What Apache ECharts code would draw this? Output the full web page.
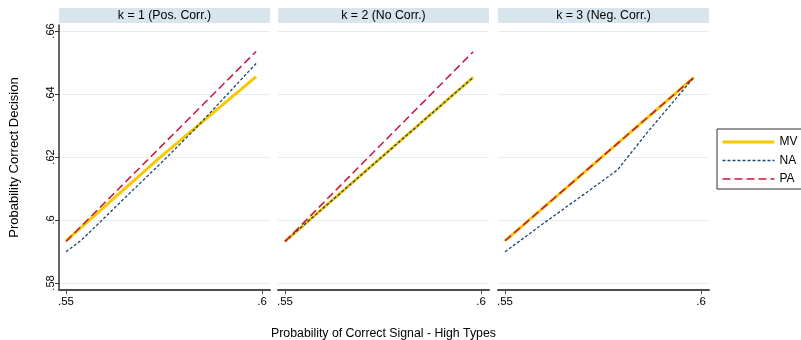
<!DOCTYPE html>
<html><head><meta charset="utf-8">
<script src="https://cdn.jsdelivr.net/npm/echarts@6/dist/echarts.min.js"></script>
<style>html,body{margin:0;padding:0;background:#fff}#c{width:801px;height:340px}</style>
</head><body><div id="c"></div>
<script>
// ---- data ----
const panelTitles = ['k = 1 (Pos. Corr.)', 'k = 2 (No Corr.)', 'k = 3 (Neg. Corr.)'];
const seriesNames = ['MV', 'NA', 'PA'];
const xTickValues = [0.55, 0.6];
const yTickValues = [0.58, 0.6, 0.62, 0.64, 0.66];
const xTitle = 'Probability of Correct Signal - High Types';
const yTitle = 'Probability Correct Decision';

// panel k=1
const mv1 = [[0.55, 0.5934], [0.574, 0.6199], [0.5985, 0.6455]];
const na1 = [[0.55, 0.5899], [0.554, 0.5937], [0.565, 0.6070], [0.575, 0.6190], [0.583, 0.6290], [0.5985, 0.6497]];
const pa1 = [[0.55, 0.5932], [0.5985, 0.6535]];
// panel k=2
const mv2 = [[0.55, 0.5932], [0.598, 0.6453]];
const na2 = [[0.55, 0.5932], [0.598, 0.6453]];
const pa2 = [[0.55, 0.5932], [0.598, 0.6534]];
// panel k=3
const mv3 = [[0.55, 0.5934], [0.5982, 0.6453]];
const na3 = [[0.55, 0.5899], [0.5589, 0.5981], [0.5742, 0.6118], [0.5787, 0.6159], [0.5861, 0.6275], [0.5982, 0.6453]];
const pa3 = [[0.55, 0.5934], [0.5982, 0.6453]];

const panels = [[mv1, na1, pa1], [mv2, na2, pa2], [mv3, na3, pa3]];

// ---- styling ----
const FONT = 'Liberation Sans, Arial, sans-serif';
const gridLefts = [59, 278, 498];
const gridW = 211, gridTop = 25, gridH = 265;
const styles = [
  {color: '#f9c800', width: 3, type: 'solid'},
  {color: '#1a476f', width: 1.3, type: [3, 2]},
  {color: '#c8143c', width: 1.5, type: [8, 4]}
];
const fmt = v => String(+v.toFixed(2)).replace(/^0/, '');

const grids = [], xAxes = [], yAxes = [], series = [], graphics = [];
panels.forEach((p, i) => {
  grids.push({left: gridLefts[i], top: gridTop, width: gridW, height: gridH, containLabel: false, outerBoundsMode: 'none'});
  xAxes.push({
    type: 'value', gridIndex: i, min: 0.54821, max: 0.60204,
    axisLine: {show: true, onZero: false, lineStyle: {color: '#4d4d4d', width: 2}},
    axisTick: {show: true, length: 4, lineStyle: {color: '#4d4d4d', width: 1}, customValues: xTickValues},
    axisLabel: {show: true, customValues: xTickValues, formatter: fmt, fontFamily: FONT, fontSize: 11.5, color: '#000', margin: 6},
    splitLine: {show: false},
    name: i === 1 ? xTitle : '', nameLocation: 'middle', nameGap: 38,
    nameTextStyle: {fontFamily: FONT, fontSize: 12.3, color: '#000'}
  });
  yAxes.push({
    type: 'value', gridIndex: i, min: 0.57778, max: 0.66190,
    axisLine: {show: i === 0, onZero: false, lineStyle: {color: '#333', width: 1.5}},
    axisTick: {show: i === 0, length: 4, lineStyle: {color: '#333'}, customValues: yTickValues},
    axisLabel: {show: i === 0, customValues: yTickValues, formatter: fmt, rotate: 90, fontFamily: FONT, fontSize: 11, color: '#000', margin: 3},
    splitLine: {show: true, lineStyle: {color: '#e3eef0', width: 1}},
    name: i === 0 ? yTitle : '', nameLocation: 'middle', nameGap: 38,
    nameTextStyle: {fontFamily: FONT, fontSize: 13, color: '#000'}
  });
  p.forEach((d, j) => {
    series.push({
      name: seriesNames[j], type: 'line', xAxisIndex: i, yAxisIndex: i, data: d,
      showSymbol: false, symbol: 'none', animation: false, z: 2 + j,
      lineStyle: {color: styles[j].color, width: styles[j].width, type: styles[j].type},
      itemStyle: {color: styles[j].color}
    });
  });
  graphics.push({type: 'rect', x: gridLefts[i], y: 8, shape: {width: gridW, height: 15}, style: {fill: '#d8e5ec'}});
  graphics.push({type: 'text', x: gridLefts[i] + gridW / 2, y: 15.5, style: {text: panelTitles[i], font: '12.3px ' + FONT, fill: '#000', align: 'center', verticalAlign: 'middle'}});
});

const chart = echarts.init(document.getElementById('c'), null, {renderer: 'canvas'});
chart.setOption({
  animation: false,
  backgroundColor: '#fff',
  grid: grids, xAxis: xAxes, yAxis: yAxes, series: series,
  legend: {
    data: seriesNames.map((n, j) => ({name: n, lineStyle: {width: styles[j].width, type: styles[j].type, color: styles[j].color}})),
    orient: 'vertical', left: 717, top: 129,
    itemWidth: 52, itemHeight: 10, itemGap: 6.5,
    itemStyle: {opacity: 0},
    borderColor: '#333', borderWidth: 1, padding: [7, 14, 4, 4],
    textStyle: {fontFamily: FONT, fontSize: 12, color: '#000'},
    backgroundColor: '#fff'
  },
  graphic: graphics
});
</script></body></html>
